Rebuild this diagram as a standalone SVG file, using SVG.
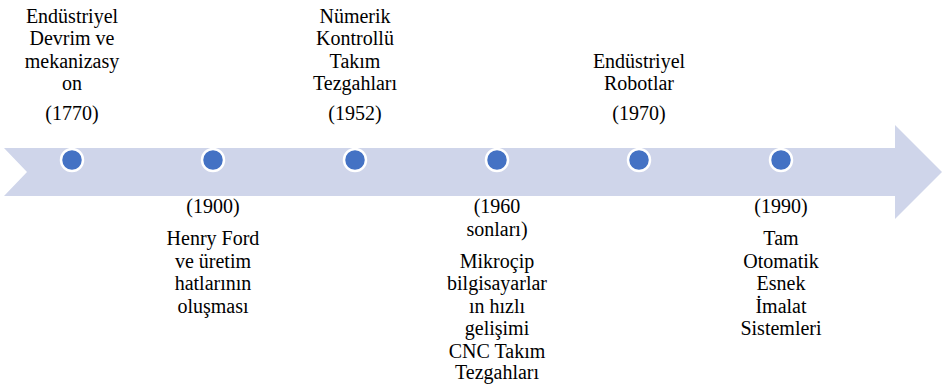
<svg xmlns="http://www.w3.org/2000/svg" width="945" height="384" viewBox="0 0 945 384">
<style>
text{font-family:'Liberation Serif','Times New Roman',serif;font-size:20px;fill:#000;text-anchor:middle}
.dot{fill:#4472C4;stroke:#fff;stroke-width:2.5}
</style>
<rect width="945" height="384" fill="#fff"/>
<g id="arrow">
<polygon points="4,148 895,148 895,125 942,172 895,219 895,196 4,196 27,172" fill="#CFD5EA"/>
</g>
<g id="connectors"></g>
<g id="n1770">
<circle class="dot" cx="72" cy="160" r="11"/>
<text x="72" y="22.7">Endüstriyel</text>
<text x="72" y="45.2">Devrim ve</text>
<text x="72" y="67.7">mekanizasy</text>
<text x="72" y="90.2">on</text>
<text x="72" y="120">(1770)</text>
</g>
<g id="n1900">
<circle class="dot" cx="213" cy="160" r="11"/>
<text x="213" y="213">(1900)</text>
<text x="213" y="245">Henry Ford</text>
<text x="213" y="267.5">ve üretim</text>
<text x="213" y="290">hatlarının</text>
<text x="213" y="312.5">oluşması</text>
</g>
<g id="n1952">
<circle class="dot" cx="355" cy="160" r="11"/>
<text x="355" y="22.7">Nümerik</text>
<text x="355" y="45.2">Kontrollü</text>
<text x="355" y="67.7">Takım</text>
<text x="355" y="90.2">Tezgahları</text>
<text x="355" y="120">(1952)</text>
</g>
<g id="n1960">
<circle class="dot" cx="497" cy="160" r="11"/>
<text x="497" y="213">(1960</text>
<text x="497" y="235.5">sonları)</text>
<text x="497" y="267.5">Mikroçip</text>
<text x="497" y="290">bilgisayarlar</text>
<text x="497" y="312.5">ın hızlı</text>
<text x="497" y="335">gelişimi</text>
<text x="497" y="357.5">CNC Takım</text>
<text x="497" y="379">Tezgahları</text>
</g>
<g id="n1970">
<circle class="dot" cx="639" cy="160" r="11"/>
<text x="639" y="67.7">Endüstriyel</text>
<text x="639" y="90.2">Robotlar</text>
<text x="639" y="120">(1970)</text>
</g>
<g id="n1990">
<circle class="dot" cx="781" cy="160" r="11"/>
<text x="781" y="213">(1990)</text>
<text x="781" y="245">Tam</text>
<text x="781" y="267.5">Otomatik</text>
<text x="781" y="290">Esnek</text>
<text x="781" y="312.5">İmalat</text>
<text x="781" y="335">Sistemleri</text>
</g>
</svg>
